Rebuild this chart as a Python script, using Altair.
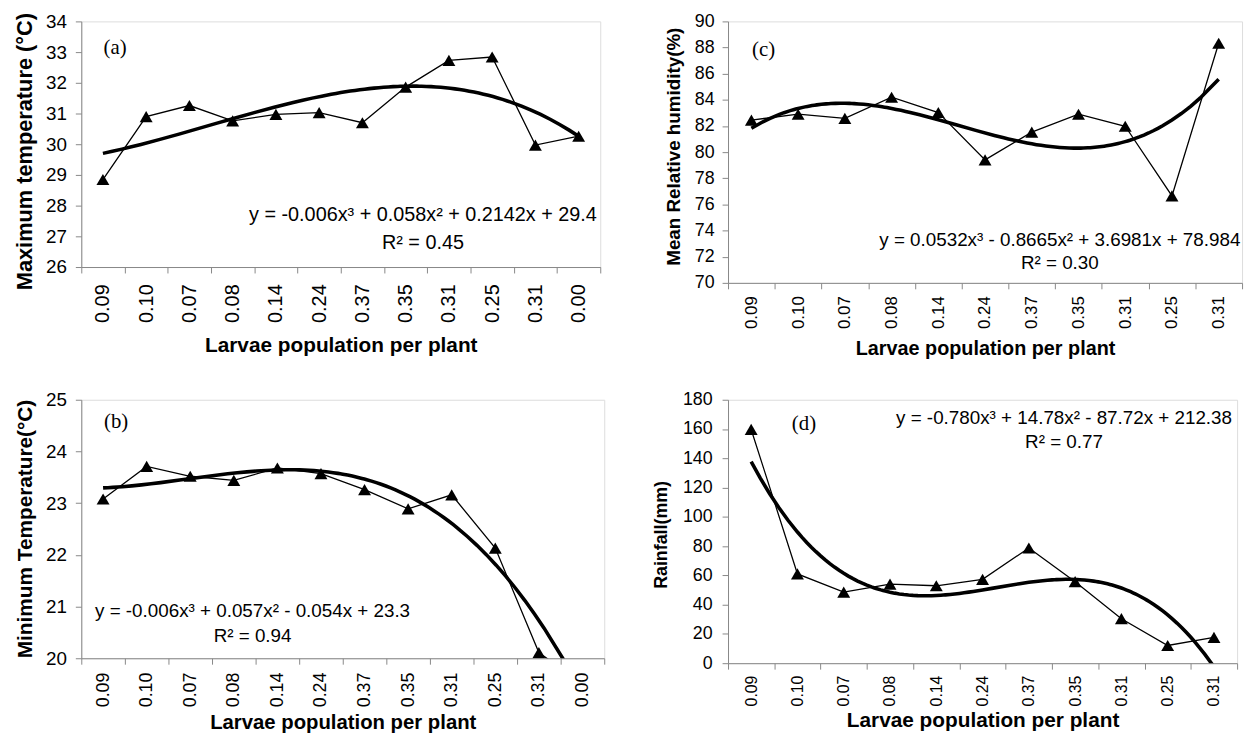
import json
import altair as alt
import pandas as pd

FONT = "Liberation Sans"
SERIF = "Liberation Serif"

# ---------------- data ----------------
labels_a = ["0.09", "0.10", "0.07", "0.08", "0.14", "0.24", "0.37", "0.35", "0.31", "0.25", "0.31", "0.00"]
max_temp = [28.85, 30.90, 31.26, 30.76, 30.97, 31.03, 30.70, 31.86, 32.73, 32.84, 29.97, 30.26]

labels_b = ["0.09", "0.10", "0.07", "0.08", "0.14", "0.24", "0.37", "0.35", "0.31", "0.25", "0.31", "0.00"]
min_temp = [23.08, 23.71, 23.52, 23.44, 23.68, 23.57, 23.26, 22.89, 23.16, 22.13, 20.11, 19.50]

labels_c = ["0.09", "0.10", "0.07", "0.08", "0.14", "0.24", "0.37", "0.35", "0.31", "0.25", "0.31"]
humidity = [82.45, 82.90, 82.58, 84.20, 83.03, 79.41, 81.53, 82.90, 81.98, 76.65, 88.33]

labels_d = ["0.09", "0.10", "0.07", "0.08", "0.14", "0.24", "0.37", "0.35", "0.31", "0.25", "0.31"]
rainfall = [159.7, 61.0, 48.5, 54.0, 52.9, 57.3, 78.7, 55.7, 30.4, 12.1, 17.6]

ticks_a = [26, 27, 28, 29, 30, 31, 32, 33, 34]
ticks_b = [20, 21, 22, 23, 24, 25]
ticks_c = [70, 72, 74, 76, 78, 80, 82, 84, 86, 88, 90]
ticks_d = [0, 20, 40, 60, 80, 100, 120, 140, 160, 180]

eq_a = ["y = -0.006x³ + 0.058x² + 0.2142x + 29.4", "R² = 0.45"]
eq_b = ["y = -0.006x³ + 0.057x² - 0.054x + 23.3", "R² = 0.94"]
eq_c = ["y = 0.0532x³ - 0.8665x² + 3.6981x + 78.984", "R² = 0.30"]
eq_d = ["y = -0.780x³ + 14.78x² - 87.72x + 212.38", "R² = 0.77"]

XTITLE = "Larvae population per plant"


def panel(labels, values, ytitle, ydom, yticks, tag, tag_pos, eq, eq_pos, w, h, st):
    n = len(labels)
    df = pd.DataFrame({"idx": list(range(1, n + 1)), "value": values})
    xq = alt.X("idx:Q", scale=alt.Scale(domain=[0.5, n + 0.5], nice=False, zero=False), axis=None)
    yenc = alt.Y(
        "value:Q",
        scale=alt.Scale(domain=ydom, nice=False, zero=False),
        axis=alt.Axis(
            values=yticks, title=ytitle, titleFontSize=st["yt"], titleFontWeight="bold",
            titleY=st["ty"],
            labelFontSize=st["ylab"], tickSize=6, labelPadding=st["ylp"], titlePadding=st["ytp"],
            labelOverlap=False, labelFlush=False, grid=False,
        ),
    )
    base = alt.Chart(df)
    axis_layer = base.mark_point(opacity=0).encode(
        x=alt.X(
            "idx:O",
            scale=alt.Scale(type="band", paddingInner=0, paddingOuter=0),
            axis=alt.Axis(
                title=XTITLE, labelExpr=f"{json.dumps(labels)}[datum.value - 1]",
                tickBand="extent", labelAngle=-90, labelFontSize=st["xlab"],
                titleFontSize=st["xt"], titleFontWeight="bold", tickSize=6,
                labelPadding=st["xlp"], titlePadding=st["xtp"], labelOverlap=False, grid=False,
            ),
        ),
        y=yenc,
    )
    line = base.mark_line(color="black", strokeWidth=1.3, clip=True).encode(x=xq, y=yenc)
    pts = base.mark_point(shape="triangle-up", filled=True, size=170, color="black",
                          opacity=1, clip=True).encode(x=xq, y=yenc)
    trend = base.transform_regression("idx", "value", method="poly", order=3).mark_line(
        color="black", strokeWidth=3.6, clip=True).encode(x=xq, y=yenc)
    tag_df = pd.DataFrame({"idx": [tag_pos[0]], "value": [tag_pos[1]], "t": [tag]})
    tag_layer = alt.Chart(tag_df).mark_text(font=SERIF, fontSize=st["tag"], align="center",
                                             baseline="middle", color="black").encode(
        x=xq, y=yenc, text="t:N")
    eq_df = pd.DataFrame({"idx": [eq_pos[0], eq_pos[0]], "value": [eq_pos[1], eq_pos[2]], "t": eq})
    eq_layer = alt.Chart(eq_df).mark_text(font=FONT, fontSize=st["eq"], align="center",
                                           baseline="middle", color="black").encode(
        x=xq, y=yenc, text="t:N")
    return alt.layer(axis_layer, line, trend, pts, tag_layer, eq_layer).resolve_scale(
        x="independent").properties(width=w, height=h)


st_a = dict(ylab=19, xlab=20, yt=22, xt=21, ylp=9, ytp=9, xlp=11, xtp=12, eq=20, tag=21, ty=131)
st_c = dict(ylab=18, xlab=17, yt=19, xt=20, ylp=8, ytp=11, xlp=7, xtp=10, eq=19, tag=21, ty=126)
st_b = dict(ylab=19, xlab=18, yt=21, xt=20.5, ylp=9, ytp=10, xlp=8, xtp=6, eq=19, tag=21, ty=130)
st_d = dict(ylab=18, xlab=16, yt=18, xt=21, ylp=10, ytp=12, xlp=6, xtp=4, eq=19, tag=21, ty=136)

pa = panel(labels_a, max_temp, "Maximum temperature (°C)", [26, 34], ticks_a, "(a)", (1.28, 33.14),
           eq_a, (8.4, 27.69, 26.77), 524, 248, st_a)
pc = panel(labels_c, humidity, "Mean Relative humidity(%)", [70, 90], ticks_c, "(c)", (1.26, 87.84),
           eq_c, (7.6, 73.27, 71.49), 519, 264, st_c)
pb = panel(labels_b, min_temp, "Minimum Temperature(°C)", [20, 25], ticks_b, "(b)", (1.3, 24.56),
           eq_b, (4.43, 20.91, 20.42), 528, 261, st_b)
pd_ = panel(labels_d, rainfall, "Rainfall(mm)", [0, 180], ticks_d, "(d)", (2.14, 163.4),
            eq_d, (7.76, 167.4, 151.4), 514, 266, st_d)

chart = alt.concat(
    pa, pc, pb, pd_, columns=2,
    spacing=alt.RowColnumber(row=116, column=125),
    bounds="flush",
    align=alt.RowColLayoutAlign(row="all", column="none"),
).properties(
    padding={"left": 5, "top": 0, "right": 5, "bottom": 0},
).configure_view(
    stroke="black", strokeWidth=1
).configure_axis(
    domainColor="black", tickColor="black", labelColor="black", titleColor="black",
    labelFont=FONT, titleFont=FONT, domainWidth=1, tickWidth=1,
).configure(background="white")

chart.save("out.html", embed_options={"renderer": "svg", "actions": False})
